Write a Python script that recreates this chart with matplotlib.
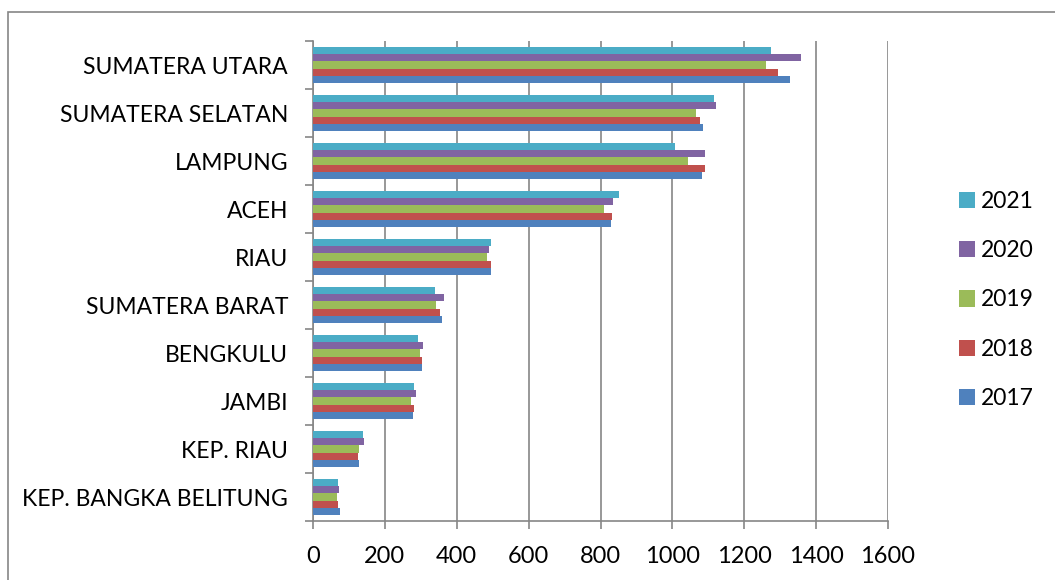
import numpy as np
import matplotlib
matplotlib.use('Agg')
import matplotlib.pyplot as plt
from matplotlib.patches import Rectangle

plt.rcParams['font.family'] = ['Lato', 'DejaVu Sans']

provinces = ['SUMATERA UTARA', 'SUMATERA SELATAN', 'LAMPUNG', 'ACEH', 'RIAU',
             'SUMATERA BARAT', 'BENGKULU', 'JAMBI', 'KEP. RIAU',
             'KEP. BANGKA BELITUNG']
years = ['2017', '2018', '2019', '2020', '2021']
v2017 = [1327, 1086, 1083, 830, 496, 360, 302, 278, 128, 76]
v2018 = [1293, 1077, 1092, 832, 494, 353, 303, 281, 125, 70]
v2019 = [1261, 1067, 1043, 810, 484, 343, 298, 273, 128, 67]
v2020 = [1358, 1120, 1091, 834, 490, 364, 306, 287, 142, 72]
v2021 = [1274, 1116, 1007, 851, 496, 339, 292, 280, 138, 70]
colors = ['#4F81BD', '#C0504D', '#9BBB59', '#8064A2', '#4BACC6']

series = [v2017, v2018, v2019, v2020, v2021]
grid_col = '#868686'

fig = plt.figure(figsize=(10.55, 5.8), dpi=100)
ax = fig.add_axes([313 / 1055, 59 / 580, 575 / 1055, 480 / 580])

# outer chart frame (clipped at right and bottom like the source)
fig.patches.append(Rectangle((8 / 1055, -0.1), 1.2, 1.1 - 12 / 580,
                             transform=fig.transFigure, fill=False,
                             edgecolor=grid_col, linewidth=1.2))

y = np.arange(len(provinces))
h = 0.152
handles = []
for k, (yr, vals, col) in enumerate(zip(years, series, colors)):
    # 2017 at bottom of each group, 2021 on top
    off = (2 - k) * h
    b = ax.barh(y + off, vals, height=h, color=col, label=yr, zorder=3)
    handles.append(b)

ax.set_ylim(len(provinces) - 0.5, -0.5)
ax.set_xlim(0, 1600)
ax.set_xticks(np.arange(0, 1601, 200))
ax.set_yticks(y)
ax.set_yticklabels(provinces)
ax.set_yticks(np.arange(-0.5, len(provinces), 1), minor=True)
ax.tick_params(axis='y', which='major', length=0, pad=18, labelsize=16.5)
ax.tick_params(axis='y', which='minor', length=6, width=1.2, color=grid_col)
ax.tick_params(axis='x', length=6, width=1.2, color=grid_col, pad=12,
               labelsize=17)
ax.grid(axis='x', color=grid_col, linewidth=1.2, zorder=0)
for s in ['top', 'right']:
    ax.spines[s].set_visible(False)
for s in ['left', 'bottom']:
    ax.spines[s].set_color(grid_col)
    ax.spines[s].set_linewidth(1.2)

leg = fig.legend(handles[::-1], years[::-1], loc='center left',
                 bbox_to_anchor=(938 / 1055, 1 - 300 / 580), frameon=False,
                 fontsize=16.5, handlelength=0.7, handleheight=0.7,
                 handletextpad=0.25, labelspacing=1.24)

fig.savefig('out.png', dpi=100)
